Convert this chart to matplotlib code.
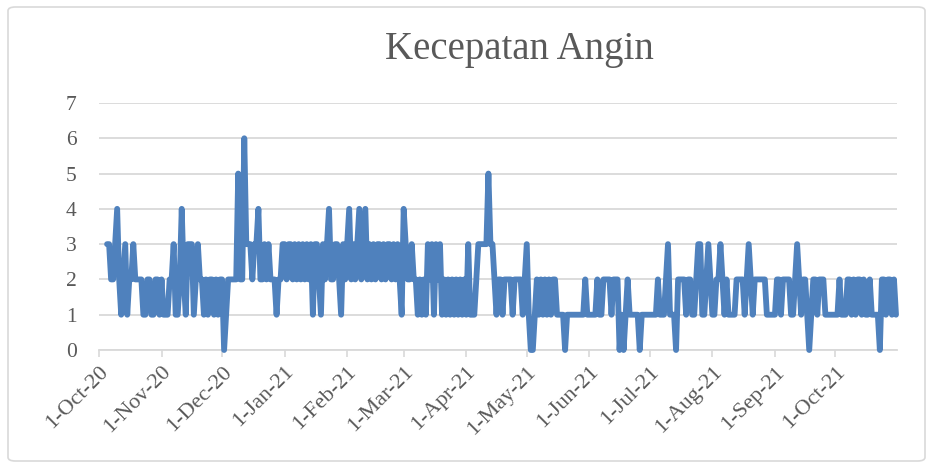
import datetime as dt
import numpy as np
import pandas as pd
import matplotlib
matplotlib.use('Agg')
import matplotlib.pyplot as plt
import matplotlib.dates as mdates
from matplotlib.patches import FancyBboxPatch

# kecepatan angin harian, 5 Okt 2020 - 31 Okt 2021
okt20 = [3, 3, 2, 2, 3, 4, 2, 1, 2, 3, 1, 2, 2, 3, 2, 2, 2, 2, 1, 1, 2, 2, 1, 1, 2, 2, 1]
nov20 = [2, 1, 1, 1, 2, 2, 3, 1, 1, 2, 4, 2, 1, 3, 3, 3, 1, 2, 3, 2, 2, 1, 2, 1, 2, 2, 1, 2, 1, 2]
des20 = [2, 0, 1, 2, 2, 2, 2, 2, 5, 2, 2, 6, 3, 3, 3, 2, 3, 3, 4, 2, 2, 3, 2, 3, 2, 2, 2, 1, 2, 2, 3]
jan21 = [3, 2, 3, 3, 2, 3, 2, 3, 2, 3, 2, 3, 2, 3, 1, 3, 3, 2, 1, 3, 2, 3, 4, 2, 2, 3, 3, 2, 1, 3, 2]
feb21 = [3, 4, 2, 3, 2, 3, 4, 2, 3, 4, 2, 3, 2, 3, 2, 3, 3, 2, 3, 2, 3, 3, 2, 3, 2, 3, 2, 1]
mar21 = [4, 3, 2, 2, 3, 2, 2, 1, 2, 1, 2, 1, 3, 2, 3, 1, 3, 2, 3, 1, 2, 1, 2, 1, 2, 1, 2, 1, 2, 1, 2]
apr21 = [1, 3, 1, 1, 1, 2, 3, 3, 3, 3, 3, 5, 3, 3, 2, 1, 2, 2, 1, 2, 2, 2, 2, 1, 2, 2, 2, 2, 1, 2]
mei21 = [3, 1, 0, 0, 1, 2, 1, 2, 1, 2, 1, 2, 1, 2, 2, 1, 1, 1, 1, 0, 1, 1, 1, 1, 1, 1, 1, 1, 1, 2, 1]
jun21 = [1, 1, 1, 1, 2, 1, 1, 2, 2, 2, 2, 1, 2, 2, 2, 0, 1, 0, 1, 2, 1, 1, 1, 1, 1, 0, 1, 1, 1, 1]
jul21 = [1, 1, 1, 1, 2, 1, 1, 1, 2, 3, 1, 1, 1, 0, 2, 2, 2, 2, 1, 2, 2, 1, 1, 2, 3, 3, 1, 1, 2, 3, 2]
agu21 = [1, 1, 2, 2, 3, 2, 1, 2, 1, 1, 1, 1, 2, 2, 2, 2, 1, 2, 3, 2, 1, 2, 2, 2, 2, 2, 2, 1, 1, 1, 1]
sep21 = [1, 2, 2, 1, 2, 2, 2, 2, 1, 1, 2, 3, 2, 1, 2, 2, 1, 0, 1, 2, 2, 1, 2, 2, 2, 1, 1, 1, 1, 1]
okt21 = [1, 1, 2, 1, 1, 1, 2, 2, 1, 2, 1, 2, 2, 1, 2, 1, 1, 2, 1, 1, 1, 1, 0, 2, 2, 1, 2, 2, 1, 2, 1]

judul = 'Kecepatan Angin'
y_ticks = [0, 1, 2, 3, 4, 5, 6, 7]

angin = okt20 + nov20 + des20 + jan21 + feb21 + mar21 + apr21 + mei21 + jun21 + jul21 + agu21 + sep21 + okt21
tanggal = pd.date_range('2020-10-05', periods=len(angin), freq='D')

W, H = 934, 468
fig = plt.figure(figsize=(W / 100, H / 100), dpi=100)
plt.rcParams['font.family'] = ['Liberation Serif', 'DejaVu Serif']
teks = '#595959'
abu = '#D9D9D9'

# bingkai chart
fig.patches.append(FancyBboxPatch((8 / W, 7 / H), 917 / W, 454 / H, boxstyle='round,pad=0,rounding_size=0.008',
                                  transform=fig.transFigure, fill=False, edgecolor=abu, linewidth=1.2))

ax = fig.add_axes([99 / W, 1 - 350 / H, (897 - 99) / W, (350 - 103) / H])
ax.plot(tanggal, angin, color='#4F81BD', linewidth=4.2, solid_joinstyle='round', solid_capstyle='round',
        zorder=3, clip_on=False)

ax.set_ylim(0, 7)
ax.set_yticks(y_ticks)
ax.set_xlim(dt.datetime(2020, 10, 1), dt.datetime(2021, 10, 31, 12))
ax.xaxis.set_major_locator(mdates.MonthLocator())
ax.xaxis.set_major_formatter(plt.FuncFormatter(
    lambda v, p: '{}-{}'.format(mdates.num2date(v).day, mdates.num2date(v).strftime('%b-%y'))))

ax.grid(axis='y', color=abu, linewidth=1.3)
ax.set_axisbelow(True)
for s in ['left', 'right', 'top']:
    ax.spines[s].set_visible(False)
ax.spines['bottom'].set_color(abu)
ax.spines['bottom'].set_linewidth(1.3)

ax.tick_params(axis='y', length=0, pad=16, labelsize=15.5, labelcolor=teks)
ax.tick_params(axis='x', length=5, width=1.2, color=abu, direction='out', pad=4, labelsize=16, labelcolor=teks)
for lbl in ax.get_xticklabels():
    lbl.set_rotation(45)
    lbl.set_ha('right')
    lbl.set_rotation_mode('anchor')

fig.text(519 / W, 1 - 50 / H, judul, ha='center', va='center', fontsize=28, color=teks)

fig.savefig('out.png', dpi=100)
